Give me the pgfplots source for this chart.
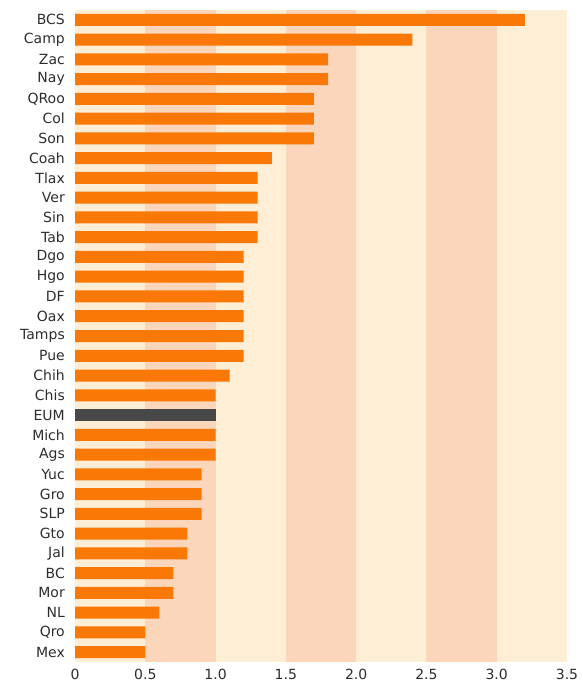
\documentclass[border=0pt]{standalone}
\usepackage{pgfplots}
\pgfplotsset{compat=1.18}
\usepackage{fontspec}
\setmainfont{DejaVu Sans}
\definecolor{bandLight}{RGB}{255,238,214}
\definecolor{bandDark}{RGB}{251,214,186}
\definecolor{barOrange}{RGB}{250,120,6}
\definecolor{barGray}{RGB}{72,72,72}
\definecolor{lab}{RGB}{45,45,45}
\begin{document}
\begin{tikzpicture}
\path[use as bounding box] (0,0) rectangle (583bp,687bp);
\begin{axis}[
  at={(75bp,25bp)}, anchor=south west,
  scale only axis, width=492bp, height=652bp,
  xmin=0, xmax=3.5, ymin=-0.5, ymax=32.5, y dir=reverse,
  axis line style={draw=none},
  axis background/.style={fill=bandLight},
  xtick={0,0.5,1,1.5,2,2.5,3,3.5},
  xticklabels={0,0.5,1.0,1.5,2.0,2.5,3.0,3.5},
  ytick={0,...,32},
  yticklabels={BCS,Camp,Zac,Nay,QRoo,Col,Son,Coah,Tlax,Ver,Sin,Tab,Dgo,Hgo,DF,Oax,Tamps,Pue,Chih,Chis,EUM,Mich,Ags,Yuc,Gro,SLP,Gto,Jal,BC,Mor,NL,Qro,Mex},
  tick style={draw=none},
  /pgf/number format/assume math mode=true,
  ticklabel style={font=\fontsize{14bp}{16bp}\selectfont, text=lab, inner sep=0pt},
  yticklabel shift=10bp,
  xticklabel shift=7bp,
]
\fill[bandDark] (axis cs:0.5,-0.5) rectangle (axis cs:1.0,32.5);
\fill[bandDark] (axis cs:1.5,-0.5) rectangle (axis cs:2.0,32.5);
\fill[bandDark] (axis cs:2.5,-0.5) rectangle (axis cs:3.0,32.5);
\addplot[xbar, bar width=12bp, bar shift=0pt, fill=barOrange, draw=none] coordinates {
(3.2,0) (2.4,1) (1.8,2) (1.8,3) (1.7,4) (1.7,5) (1.7,6) (1.4,7) (1.3,8) (1.3,9) (1.3,10) (1.3,11)
(1.2,12) (1.2,13) (1.2,14) (1.2,15) (1.2,16) (1.2,17) (1.1,18) (1.0,19)
(1.0,21) (1.0,22) (0.9,23) (0.9,24) (0.9,25) (0.8,26) (0.8,27) (0.7,28) (0.7,29) (0.6,30) (0.5,31) (0.5,32)
};
\addplot[xbar, bar width=12bp, bar shift=0pt, fill=barGray, draw=none] coordinates {(1.0,20)};
\end{axis}
\end{tikzpicture}
\end{document}
